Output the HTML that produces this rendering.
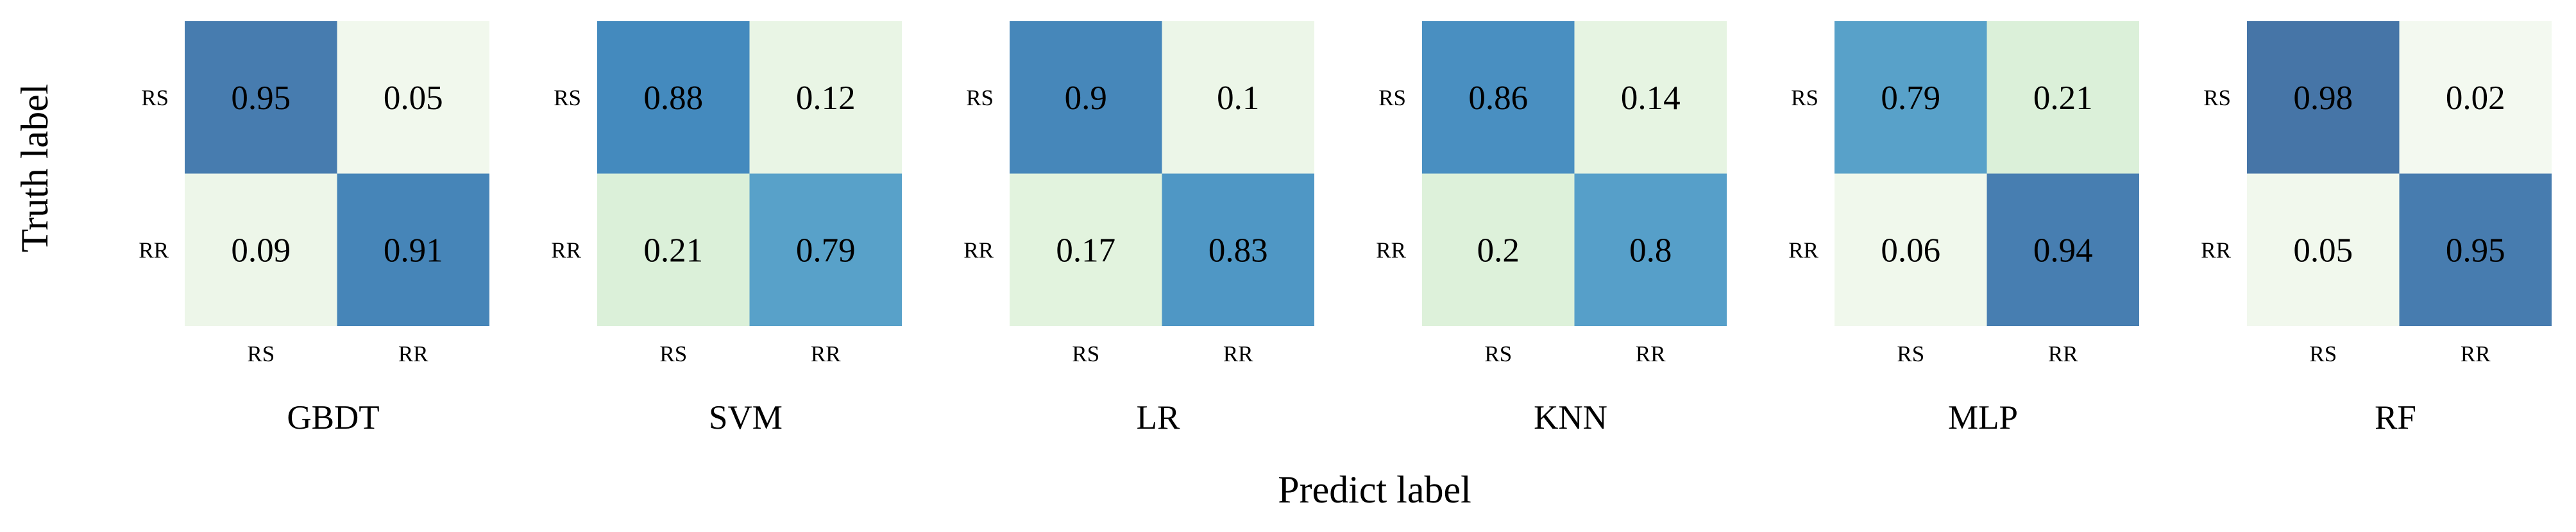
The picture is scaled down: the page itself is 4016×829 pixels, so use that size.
<!DOCTYPE html>
<html><head><meta charset="utf-8"><style>
html,body{margin:0;padding:0;background:#fff;}
svg{display:block;font-family:"Liberation Serif","DejaVu Serif",serif;}
</style></head><body>
<svg id="chart" width="4016" height="829" viewBox="0 0 4016 829" xmlns="http://www.w3.org/2000/svg">
<text x="0" y="0" transform="translate(74,262) rotate(-90)" text-anchor="middle" font-size="60">Truth label</text>
<text x="2143" y="783" text-anchor="middle" font-size="60">Predict label</text>
</svg>
<script>
const models = ["GBDT","SVM","LR","KNN","MLP","RF"];
const classLabels = ["RS","RR"];
const valRS_RS = [0.95,0.88,0.9,0.86,0.79,0.98];
const valRS_RR = [0.05,0.12,0.1,0.14,0.21,0.02];
const valRR_RS = [0.09,0.21,0.17,0.2,0.06,0.05];
const valRR_RR = [0.91,0.79,0.83,0.8,0.94,0.95];

const svg = document.getElementById('chart');
const NS = "http://www.w3.org/2000/svg";
const X0 = 288, STEP = 643, SIZE = 475, Y0 = 33;
const cell = SIZE / 2;
function panelX(i){ return X0 + i*STEP; }
function cellX(i,c){ return panelX(i) + c*cell; }
function cellY(r){ return Y0 + r*cell; }

const stops = [[0,[245,250,242]],[0.1,[236,246,232]],[0.2,[221,241,218]],[0.5,[150,205,200]],[0.8,[86,159,201]],[0.88,[68,138,190]],[0.92,[71,131,182]],[1.0,[70,112,162]]];
function color(v){
  for(let k=1;k<stops.length;k++){
    if(v<=stops[k][0]){
      const a=stops[k-1], b=stops[k], t=(v-a[0])/(b[0]-a[0]);
      const c=a[1].map((x,j)=>Math.round(x+(b[1][j]-x)*t));
      return 'rgb('+c.join(',')+')';
    }
  }
  return 'rgb('+stops[stops.length-1][1].join(',')+')';
}
function mk(tag, attrs, txt){
  const e=document.createElementNS(NS,tag);
  for(const k in attrs) e.setAttribute(k, attrs[k]);
  if(txt!==undefined) e.textContent=txt;
  svg.appendChild(e);
  return e;
}
models.forEach((m,i)=>{
  const mat=[[valRS_RS[i],valRS_RR[i]],[valRR_RS[i],valRR_RR[i]]];
  for(let r=0;r<2;r++){
    for(let c=0;c<2;c++){
      const rect=mk('rect',{x:cellX(i,c),y:cellY(r),width:cell,height:cell,fill:color(mat[r][c])});
      
      
      const t=mk('text',{x:cellX(i,c)+cell/2,y:cellY(r)+cell/2+18,'text-anchor':'middle','font-size':53,fill:'#000'},String(mat[r][c]));
      
      
    }
    const yl=mk('text',{x:panelX(i)-25,y:cellY(r)+cell/2+12,'text-anchor':'end','font-size':35},classLabels[r]);
    
    
  }
  for(let c=0;c<2;c++){
    const xl=mk('text',{x:cellX(i,c)+cell/2,y:563,'text-anchor':'middle','font-size':35},classLabels[c]);
    
    
  }
  const title=mk('text',{x:panelX(i)+SIZE/2-6,y:668,'text-anchor':'middle','font-size':53},m);
  
  
});
</script>
</body></html>
